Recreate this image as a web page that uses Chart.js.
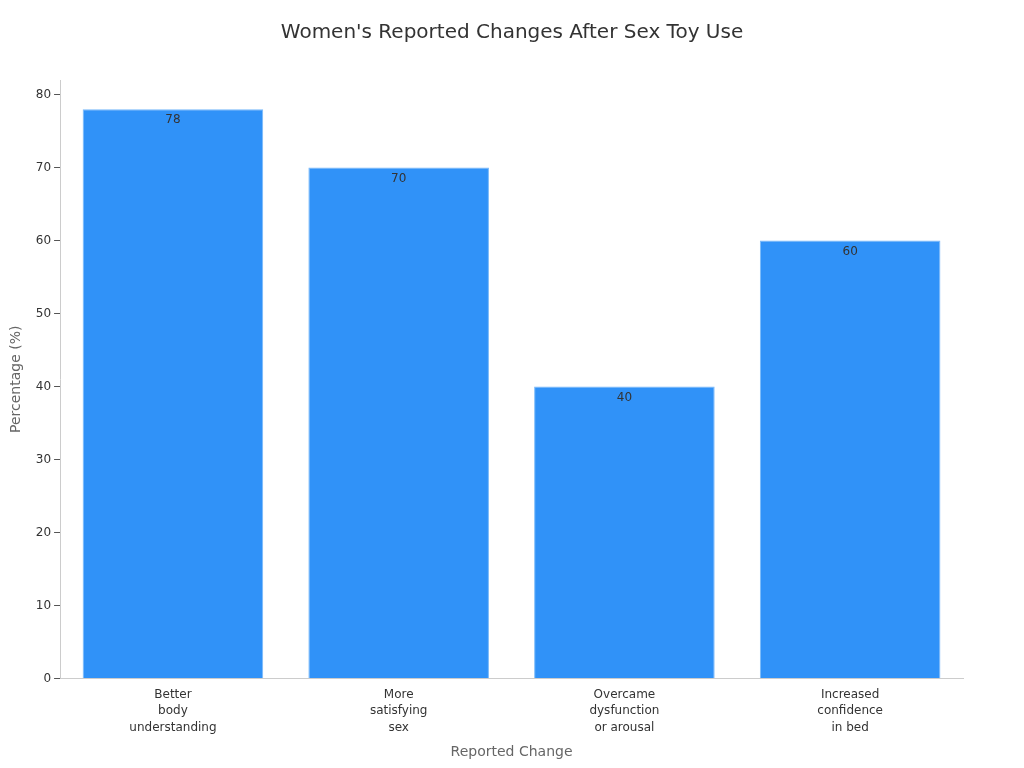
<!DOCTYPE html>
<html>
<head>
<meta charset="utf-8">
<script src="https://cdn.jsdelivr.net/npm/chart.js@4"></script>
<style>
  html, body { margin: 0; padding: 0; background: #fff; }
  #wrap { width: 1024px; height: 768px; }
</style>
</head>
<body>
<div id="wrap"><canvas id="chartChanges"></canvas></div>
<script>
var chartTitle = "Women's Reported Changes After Sex Toy Use";
var categories = [
    ["Better", "body", "understanding"],
    ["More", "satisfying", "sex"],
    ["Overcame", "dysfunction", "or arousal"],
    ["Increased", "confidence", "in bed"]
];
var percentages = [78, 70, 40, 60];
var yTicks = [0, 10, 20, 30, 40, 50, 60, 70, 80];

Chart.defaults.font.family = "'DejaVu Sans', sans-serif";
Chart.defaults.color = '#333';

// title centred on the whole page, plus value written inside the top of each bar
var barValues = {
    id: 'barValues',
    afterDraw: function(chart) {
        var ctx = chart.ctx;
        var meta = chart.getDatasetMeta(0);
        ctx.save();
        ctx.font = "20px 'DejaVu Sans', sans-serif";
        ctx.fillStyle = '#333';
        ctx.textAlign = 'center';
        ctx.textBaseline = 'middle';
        ctx.fillText(chartTitle, chart.width / 2, 33);

        ctx.font = "12px 'DejaVu Sans', sans-serif";
        ctx.textBaseline = 'top';
        meta.data.forEach(function(bar, i) {
            ctx.fillText(percentages[i], bar.x, bar.y + 5);
        });
        ctx.restore();
    }
};

var chartChanges = new Chart(document.getElementById("chartChanges"), {
    type: 'bar',
    data: {
        labels: categories,
        datasets: [{
            label: "Percentage",
            backgroundColor: 'rgb(48, 146, 248)',
            borderColor: 'rgb(120, 185, 250)',
            borderWidth: 1,
            data: percentages,
            barPercentage: 0.8,
            categoryPercentage: 1.0
        }]
    },
    options: {
        responsive: true,
        maintainAspectRatio: false,
        animation: false,
        layout: { padding: { left: 4, right: 61, top: 80, bottom: 3 } },
        plugins: {
            legend: { display: false },
            tooltip: { enabled: false },
            title: { display: false }
        },
        scales: {
            x: {
                grid: { display: false, drawTicks: true, tickLength: 6, color: '#ccc' },
                border: { display: true, color: '#ccc' },
                ticks: { color: '#333', font: { size: 12, lineHeight: 1.38 }, padding: 2, maxRotation: 0 },
                title: {
                    display: true,
                    text: 'Reported Change',
                    color: '#666',
                    font: { size: 14 },
                    padding: { top: 6 }
                }
            },
            y: {
                min: 0,
                max: 82,
                afterBuildTicks: function(axis) {
                    axis.ticks = yTicks.map(function(v) { return { value: v }; });
                },
                grid: { display: true, drawOnChartArea: false, drawTicks: true, tickLength: 6, color: '#555' },
                border: { display: true, color: '#ccc' },
                ticks: { color: '#333', font: { size: 12 }, padding: 3 },
                title: {
                    display: true,
                    text: 'Percentage (%)',
                    color: '#666',
                    font: { size: 14 },
                    padding: { bottom: 8 }
                }
            }
        }
    },
    plugins: [barValues]
});
</script>
</body>
</html>
